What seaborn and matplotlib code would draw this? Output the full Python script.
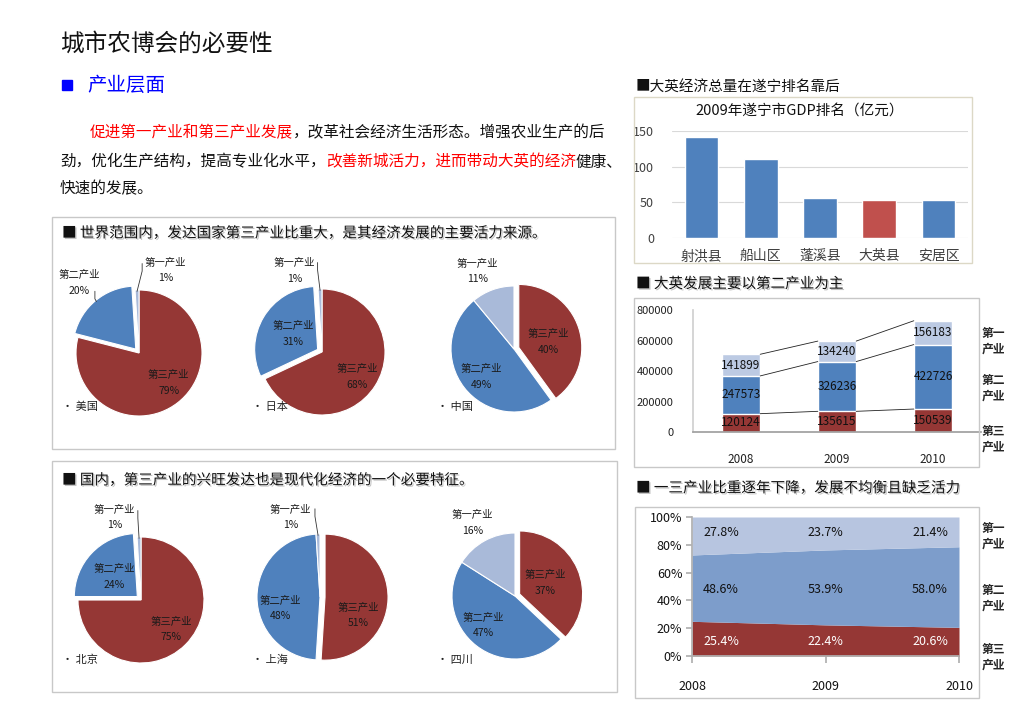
import matplotlib
matplotlib.use('Agg')
import matplotlib.pyplot as plt
import matplotlib.patheffects as pe
from matplotlib.patches import Rectangle
import numpy as np
import pandas as pd
import seaborn as sns

# ---- data ----
industries = ['第三产业', '第二产业', '第一产业']

world_regions = ['美国', '日本', '中国']
world_shares = [[79, 20, 1], [68, 31, 1], [40, 49, 11]]

china_regions = ['北京', '上海', '四川']
china_shares = [[75, 24, 1], [51, 48, 1], [37, 47, 16]]

gdp_counties = ['射洪县', '船山区', '蓬溪县', '大英县', '安居区']
gdp_values = [141.6, 111.3, 55.4, 53.5, 52.6]

years = ['2008', '2009', '2010']
tertiary = [120124, 135615, 150539]
secondary = [247573, 326236, 422726]
primary = [141899, 134240, 156183]

share_tertiary = [25.4, 22.4, 20.6]
share_secondary = [48.6, 53.9, 58.0]
share_primary = [27.8, 23.7, 21.4]

# ---- style ----
RED = '#953735'
BLUE = '#4f81bd'
LIGHT = '#a9bad9'
W, H = 1024, 724

sns.set_theme(style='white')
plt.rcParams['font.family'] = ['Noto Sans CJK SC', 'DejaVu Sans']
plt.rcParams['axes.unicode_minus'] = False

fig = plt.figure(figsize=(W / 100, H / 100), dpi=100)
renderer = fig.canvas.get_renderer()


def px_axes(x, y, w, h):
    return fig.add_axes([x / W, 1 - (y + h) / H, w / W, h / H])


def ftext(x, y, s, **kw):
    kw.setdefault('va', 'center')
    return fig.text(x / W, 1 - y / H, s, **kw)


def box(x, y, w, h, ec='#c8c8c8', lw=1.0):
    fig.add_artist(Rectangle((x / W, 1 - (y + h) / H), w / W, h / H,
                             transform=fig.transFigure, fill=False, ec=ec, lw=lw))


def rich_line(x, y, parts, size):
    for s, c in parts:
        t = ftext(x, y, s, color=c, fontsize=size)
        x += t.get_window_extent(renderer).width


shadow = [pe.withSimplePatchShadow(offset=(1, -1), shadow_rgbFace='#888888', alpha=0.5)]

# ---- left text ----
ftext(60, 44, '城市农博会的必要性', fontsize=17, color='#111111')
fig.add_artist(Rectangle((62 / W, 1 - 90 / H), 10 / W, 10 / H,
                         transform=fig.transFigure, color='#0000ff'))
ftext(87, 85, '产业层面', fontsize=14, color='#0000ff')

rich_line(90, 133, [('促进第一产业和第三产业发展', '#ff0000'),
                    ('，改革社会经济生活形态。增强农业生产的后', '#111111')], 11.25)
rich_line(60, 162, [('劲，优化生产结构，提高专业化水平，', '#111111'),
                    ('改善新城活力，进而带动大英的经济', '#ff0000'),
                    ('健康、', '#111111')], 11.25)
rich_line(60, 189, [('快速的发展。', '#111111')], 11.25)

box(52, 217, 563, 232)
box(52, 461, 565, 231)
ftext(62, 233, '■ 世界范围内，发达国家第三产业比重大，是其经济发展的主要活力来源。',
      fontsize=10.5, color='#111111', path_effects=shadow)
ftext(62, 480, '■ 国内，第三产业的兴旺发达也是现代化经济的一个必要特征。',
      fontsize=10.5, color='#111111', path_effects=shadow)


# ---- pies ----
def draw_pie(cx, cy, shares, explode_idx, label_pos, leaders, name, name_x, name_y):
    R, s = 63, 1.9
    ax = px_axes(cx - R * s, cy - R * s, 2 * R * s, 2 * R * s)
    explode = [0.08 if i == explode_idx else 0 for i in range(3)]
    wedges, _ = ax.pie(shares, colors=[RED, BLUE, LIGHT], startangle=90,
                       counterclock=False, explode=explode,
                       wedgeprops=dict(edgecolor='white', linewidth=0.8))
    ax.set_xlim(-s, s)
    ax.set_ylim(-s, s)
    ax.axis('off')
    for i, (lx, ly) in enumerate(label_pos):
        ax.text(lx, ly, f'{industries[i]}\n{shares[i]}%', ha='center', va='center',
                fontsize=7.5, linespacing=1.7, color='#1a1a1a')
    for i, (sx, sy) in leaders:
        w = wedges[i]
        mid = np.deg2rad((w.theta1 + w.theta2) / 2)
        px = w.center[0] + 0.98 * np.cos(mid)
        py = w.center[1] + 0.98 * np.sin(mid)
        ax.plot([sx, sx, px], [sy, sy - 0.12, py], color='#333333', lw=0.6)
    ftext(name_x, name_y, '• ' + name, fontsize=8, color='#222222')


draw_pie(139, 353, world_shares[0], 1,
         [(0.47, -0.48), (-0.95, 1.11), (0.42, 1.31)],
         [(1, (-0.7, 0.98)), (2, (0.05, 1.42))], world_regions[0], 62, 407)
draw_pie(322, 352, world_shares[1], 1,
         [(0.56, -0.40), (-0.45, 0.29), (-0.44, 1.29)],
         [(2, (-0.07, 1.42))], world_regions[1], 252, 407)
draw_pie(514, 349, world_shares[2], 0,
         [(0.55, 0.11), (-0.52, -0.44), (-0.58, 1.23)],
         [], world_regions[2], 437, 407)

draw_pie(141, 600, china_shares[0], 1,
         [(0.48, -0.47), (-0.42, 0.37), (-0.42, 1.31)],
         [(2, (-0.05, 1.42))], china_regions[0], 62, 660)
draw_pie(320, 597, china_shares[1], 0,
         [(0.61, -0.29), (-0.63, -0.18), (-0.47, 1.26)],
         [(2, (-0.08, 1.40))], china_regions[1], 252, 660)
draw_pie(515, 596, china_shares[2], 0,
         [(0.48, 0.21), (-0.50, -0.47), (-0.68, 1.16)],
         [], china_regions[2], 437, 660)

# ---- GDP ranking bar chart ----
ftext(636, 88, '■大英经济总量在遂宁排名靠后', fontsize=10.5, color='#111111')
box(634, 97, 338, 166, ec='#dcd8c6')
ftext(800, 111, '2009年遂宁市GDP排名（亿元）', fontsize=10.5, ha='center', color='#111111')
ax = px_axes(672, 131, 296, 107)
df_gdp = pd.DataFrame({'county': gdp_counties, 'gdp': gdp_values})
sns.barplot(data=df_gdp, x='county', y='gdp', hue='county',
            palette=[BLUE, BLUE, BLUE, '#c0504d', BLUE], width=0.57,
            saturation=1, legend=False, ax=ax)
ax.set_ylim(0, 150)
ax.set_yticks([0, 50, 100, 150])
ax.yaxis.grid(True, color='#d9d9d9', lw=0.8)
ax.set_axisbelow(True)
for sp in ax.spines.values():
    sp.set_visible(False)
ax.set_xlabel('')
ax.set_ylabel('')
ax.tick_params(axis='y', left=False, pad=7, labelsize=9, labelcolor='#404040')
ax.tick_params(axis='x', bottom=False, pad=2, labelsize=10, labelcolor='#404040')

# ---- stacked bars ----
ftext(636, 284, '■ 大英发展主要以第二产业为主', fontsize=10.5, color='#111111',
      path_effects=shadow)
box(634, 298, 345, 169)
ax = px_axes(693, 310, 288, 122)
df_stack = pd.DataFrame({'year': years, 'third': tertiary,
                         'second': secondary, 'first': primary})
df_stack['cum2'] = df_stack['third'] + df_stack['second']
df_stack['total'] = df_stack['cum2'] + df_stack['first']
for col, c in [('total', '#bccae3'), ('cum2', BLUE), ('third', RED)]:
    sns.barplot(data=df_stack, x='year', y=col, color=c, width=0.4,
                saturation=1, ax=ax)
ax.set_xlim(-0.5, 2.5)
ax.set_ylim(0, 800000)
ax.set_yticks(range(0, 800001, 200000))
for sp in ['top', 'right']:
    ax.spines[sp].set_visible(False)
ax.spines['left'].set_color('#d0d0d0')
ax.spines['bottom'].set_color('#a0a0a0')
ax.set_xlabel('')
ax.set_ylabel('')
ax.tick_params(axis='y', left=False, pad=8, labelsize=8, labelcolor='#222222')
ax.tick_params(axis='x', bottom=False, pad=9, labelsize=8.5, labelcolor='#222222')
lows = [0 * df_stack['third'], df_stack['third'], df_stack['cum2']]
highs = [df_stack['third'], df_stack['cum2'], df_stack['total']]
vals = [df_stack['third'], df_stack['second'], df_stack['first']]
for lo, hi, v in zip(lows, highs, vals):
    for i in range(3):
        ax.text(i, (lo[i] + hi[i]) / 2, f'{v[i]}', ha='center', va='center',
                fontsize=8.5, color='#111111')
for hi in highs:
    for i in range(2):
        ax.plot([i + 0.2, i + 0.8], [hi[i], hi[i + 1]], color='#222222', lw=0.6)
for lab, y in [('第一\n产业', 341), ('第二\n产业', 388), ('第三\n产业', 439)]:
    ftext(982, y, lab, fontsize=8.5, fontweight='bold', linespacing=1.25)

# ---- 100% area ----
ftext(636, 488, '■ 一三产业比重逐年下降，发展不均衡且缺乏活力', fontsize=10.5,
      color='#111111', path_effects=shadow)
box(635, 507, 344, 191)
ax = px_axes(692, 517, 267, 139)
shares = np.array([share_tertiary, share_secondary, share_primary])
norm = shares / shares.sum(axis=0) * 100
ax.stackplot(range(3), norm, colors=[RED, '#7d9dcb', '#b7c5e0'], lw=0)
ax.set_xlim(0, 2)
ax.set_ylim(0, 100)
ax.set_yticks(range(0, 101, 20))
ax.set_yticklabels([f'{v}%' for v in range(0, 101, 20)])
ax.set_xticks(range(3))
ax.set_xticklabels(years)
for sp in ['top', 'right']:
    ax.spines[sp].set_visible(False)
ax.spines['left'].set_color('#b0b0b0')
ax.spines['bottom'].set_color('#b0b0b0')
ax.tick_params(axis='y', left=True, length=4, color='#b0b0b0', pad=3,
               labelsize=9, labelcolor='#111111')
ax.tick_params(axis='x', bottom=True, length=5, color='#b0b0b0', pad=12,
               labelsize=9, labelcolor='#111111')
has = ['left', 'center', 'right']
offs = [8, 0, -8]
for row, ylev, col in [(share_primary, 88.5, '#111111'),
                       (share_secondary, 47.5, '#111111'),
                       (share_tertiary, 10.5, 'white')]:
    for i in range(3):
        ax.annotate(f'{row[i]:.1f}%', (i, ylev), xytext=(offs[i], 0),
                    textcoords='offset points', ha=has[i], va='center',
                    fontsize=9, color=col)
for lab, y in [('第一\n产业', 536), ('第二\n产业', 598), ('第三\n产业', 657)]:
    ftext(982, y, lab, fontsize=8.5, fontweight='bold', linespacing=1.25)

fig.savefig('out.png', dpi=100)
